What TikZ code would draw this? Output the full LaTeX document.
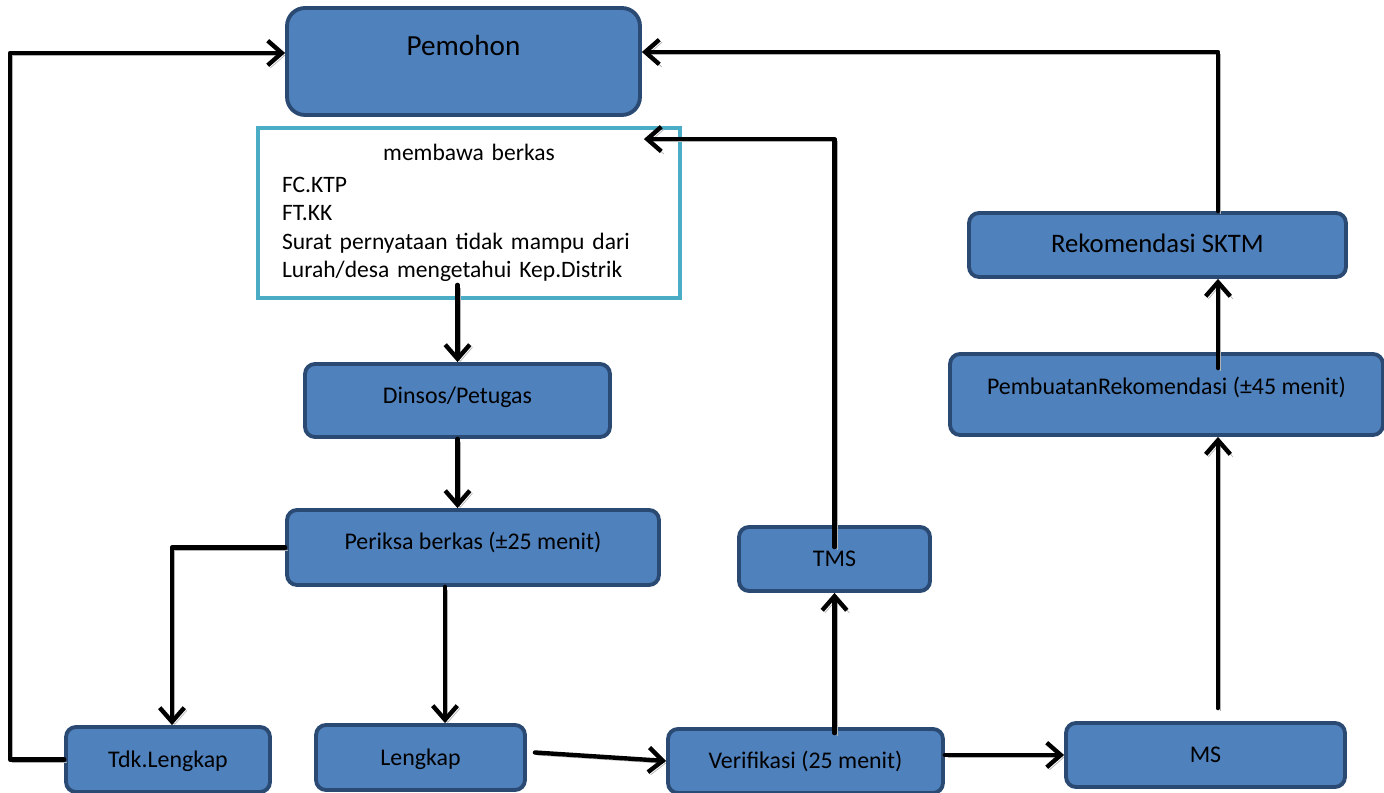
\documentclass[tikz,border=0pt]{standalone}
\usepackage{fontspec}
\setmainfont{Carlito}
\usetikzlibrary{
  arrows.meta,
  positioning
}
\definecolor{boxblue}{HTML}{4F81BD}
\definecolor{boxline}{HTML}{2A4A73}
\definecolor{listline}{HTML}{4BACC6}
\tikzset{
  x = 0.02cm,
  y = -0.02cm,
  stepbox/.style = {draw=boxline, fill=boxblue, line width=2.2pt,
    rounded corners=0.2cm, minimum height=1.28cm, inner sep=0pt,
    text height=0.88em, text depth=0.02em,
    font=\fontsize{13.6pt}{16pt}\selectfont},
  listbox/.style = {draw=listline, line width=2.2pt, fill=white,
    align=left, text width=7.48cm, inner xsep=0.48cm, minimum height=3.4cm,
    font=\fontsize{13.4pt}{16.2pt}\selectfont},
  flow/.style = {line width=2.5pt, line cap=round, line join=round,
    -{Straight Barb[length=8pt,width=14pt]},
    preaction={draw=black!30, transform canvas={shift={(1.5pt,-1.5pt)}}}},
}
\newcommand{\upby}[2]{\raisebox{#1}{#2}}

\begin{document}
\begin{tikzpicture}
  \useasboundingbox (0,0) rectangle (1384,793);

  \node[stepbox, rounded corners=0.36cm, minimum width=7.06cm, minimum height=2.14cm,
    font=\fontsize{16.6pt}{19pt}\selectfont] (pemohon) at (463.5,61.5) {\upby{0.28cm}{Pemohon}};
  \node[listbox] (berkas) at (469,213) {\makebox[7.48cm][c]{membawa berkas}\\[2pt]
    FC.KTP\\
    FT.KK\\
    Surat pernyataan tidak mampu dari\\
    Lurah/desa mengetahui Kep.Distrik};
  \node[stepbox, minimum width=6.1cm, minimum height=1.46cm] (dinsos) at (457.5,400.5) {\upby{0.1cm}{Dinsos/Petugas}};
  \node[stepbox, minimum width=7.44cm, minimum height=1.5cm] (periksa) at (473,547.5) {\upby{0.12cm}{Periksa berkas (±25 menit)}};
  \node[stepbox, minimum width=4.08cm, minimum height=1.3cm] (tdk) at (168,759.5) {Tdk.Lengkap};
  \node[stepbox, minimum width=4.18cm, minimum height=1.3cm] (lengkap) at (420.5,757.5) {Lengkap};
  \node[stepbox, minimum width=5.5cm] (verif) at (805.5,761) {Verifikasi (25 menit)};
  \node[stepbox, minimum width=3.82cm] (tms) at (834.5,559) {TMS};
  \node[stepbox, minimum width=5.58cm] (ms) at (1205.5,755) {MS};
  \node[stepbox, minimum width=8.66cm, minimum height=1.62cm] (pembuatan) at (1166.5,394.5) {\upby{0.16cm}{PembuatanRekomendasi (±45 menit)}};
  \node[stepbox, minimum width=7.54cm, font=\fontsize{15.2pt}{18pt}\selectfont] (sktm) at (1157.5,245) {Rekomendasi SKTM};

  \coordinate (rcol) at ([xshift=1.21cm]sktm.north);

  \draw[flow] (tdk.west) -- ++(-54,0) |- ([yshift=0.17cm]pemohon.west);
  \draw[flow] (rcol) |- ([yshift=0.19cm]pemohon.east);
  \draw[flow] ([yshift=-0.44cm]tms.north) |- ([xshift=-0.76cm,yshift=-0.26cm]berkas.north east);
  \draw[flow] ([yshift=0.3cm]berkas.south -| dinsos.north) -- (dinsos.north);
  \draw[flow] (dinsos.south) -- (dinsos.south |- periksa.north);
  \draw[flow] (periksa.west) -| ([xshift=0.08cm]tdk.north);
  \draw[flow] ([xshift=-0.56cm]periksa.south) -- ([xshift=-0.56cm]periksa.south |- lengkap.north);
  \draw[flow] ([xshift=0.16cm,yshift=0.1cm]lengkap.east) -- (verif.west);
  \draw[flow] ([yshift=-0.12cm]verif.north -| tms.north) -- (tms.south);
  \draw[flow] (verif.east |- ms.west) -- (ms.west);
  \draw[flow] ([yshift=0.26cm]ms.north -| rcol) -- (pembuatan.south -| rcol);
  \draw[flow] ([yshift=-0.32cm]pembuatan.north -| rcol) -- (sktm.south -| rcol);
\end{tikzpicture}
\end{document}
